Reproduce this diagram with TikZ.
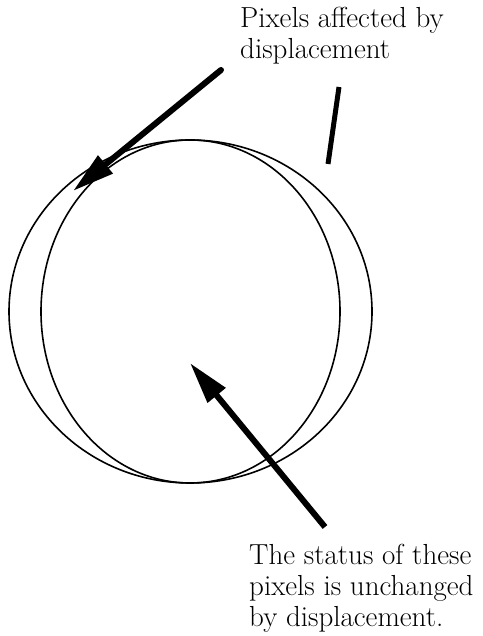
\documentclass[tikz,border=0pt]{standalone}
\usetikzlibrary{arrows.meta}
\begin{document}
\begin{tikzpicture}[x=1pt, y=1pt, >={Triangle[length=42pt, width=22pt]}]

            % Rahmen
            \useasboundingbox (0,0) rectangle (482,636);

            % Mittelpunkt und Halbachse
            \pgfmathsetmacro{\cx}{190}
            \pgfmathsetmacro{\cy}{324.5}
            \pgfmathsetmacro{\ry}{171.5}

            % linke Hälften (aussen, innen)
            \draw[line width=1.6pt] (\cx, {\cy+\ry}) arc[start angle=90, end angle=270, x radius=181, y radius=\ry];
            \draw[line width=1.6pt] (\cx, {\cy+\ry}) arc[start angle=90, end angle=270, x radius=149, y radius=\ry];

            % rechte Hälften (innen, aussen)
            \draw[line width=1.6pt] (\cx, {\cy+\ry}) arc[start angle=90, end angle=-90, x radius=150, y radius=\ry];
            \draw[line width=1.6pt] (\cx, {\cy+\ry}) arc[start angle=90, end angle=-90, x radius=182, y radius=\ry];

            % Beschriftungen
            \node[anchor=north west, inner sep=0pt, align=left, font=\fontsize{29}{31}\selectfont]
            (lblaffected) at (240, 629) {Pixels affected by\\displacement};
            \node[anchor=north west, inner sep=0pt, align=left, font=\fontsize{29}{31}\selectfont]
            (lblunchanged) at (249, 92) {The status of these\\pixels is unchanged\\by displacement.};

            % Endpunkte der Pfeile
            \coordinate (affstart) at (221, 566);
            \coordinate (afftip) at (73, 445);
            \coordinate (ticktop) at (339, 549);
            \coordinate (tickbot) at (328, 472);
            \coordinate (unchstart) at (325, 109);
            \coordinate (unchtip) at (190, 273);

            % Pfeil: betroffene Pixel
            \draw[->, line width=6pt, line cap=round] (affstart) -- (afftip);

            % kurzer Strich rechts
            \draw[line width=5pt] (ticktop) -- (tickbot);

            % Pfeil: unveränderte Pixel
            \draw[->, line width=6pt] (unchstart) -- (unchtip);

        \end{tikzpicture}
\end{document}
